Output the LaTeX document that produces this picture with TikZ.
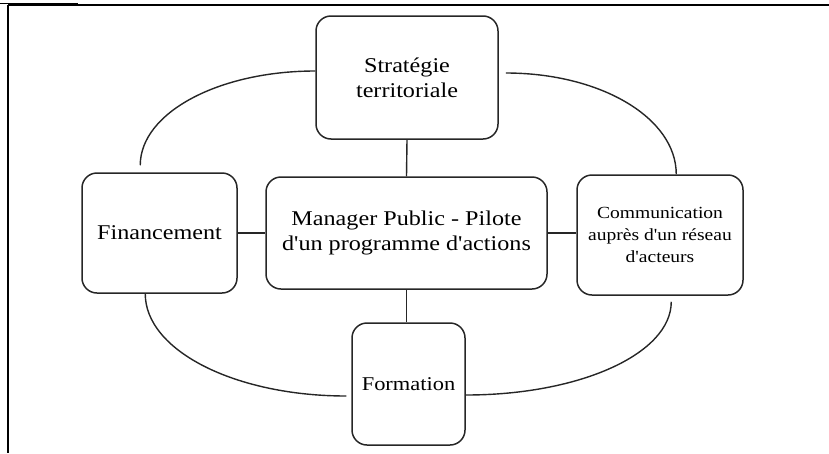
\documentclass[tikz,border=0pt]{standalone}
\usepackage{fontspec}
\newfontfamily\ser[FakeStretch=1.15]{Liberation Serif}
\usetikzlibrary{calc}
\begin{document}
\begin{tikzpicture}[x=1pt,y=-1pt,
  box/.style={draw=black!85,line width=1.5pt,rounded corners=15pt,inner sep=0pt,align=center,text=black},
  bigtext/.style={font=\ser\fontsize{21}{25}\selectfont},
  smalltext/.style={font=\ser\fontsize{17}{22}\selectfont},
  link/.style={draw=black!85,line width=1.4pt}]
\useasboundingbox (0,0) rectangle (829,453);
% frame
\draw[line width=2pt] (8,5) -- (829,5);
\draw[line width=2pt] (8,5) -- (8,453);
\draw[line width=1pt] (0,3) -- (78,3);
% nodes
\node[box,bigtext,minimum width=182pt,minimum height=123pt] (strat) at (407,77.5) {Stratégie\\territoriale};
\node[box,bigtext,minimum width=281pt,minimum height=112pt] (central) at (406.5,233) {Manager Public - Pilote\\d'un programme d'actions};
\node[box,bigtext,minimum width=155pt,minimum height=120pt] (fin) at (159.5,233) {Financement};
\node[box,smalltext,minimum width=166pt,minimum height=120pt] (comm) at (660,235) {Communication\\auprès d'un réseau\\d'acteurs};
\node[box,font=\ser\fontsize{19.5}{24}\selectfont,minimum width=113pt,minimum height=122pt] (form) at (408.5,384) {Formation};
% straight links
\draw[link] (strat.south) -- (central.north);
\draw[link] (fin.east) -- (central.west);
\draw[link] (central.east) -- (central.east -| comm.west);
\draw[link] (central.south) -- (central.south |- form.north);
% arc end points
\coordinate (tlA) at ($(strat.west)+(0,-6.5)$);
\coordinate (tlB) at ($(fin.north west)+(59,-7)$);
\coordinate (trA) at ($(strat.east)+(7,-4.5)$);
\coordinate (trB) at ($(comm.north west)+(100,0)$);
\coordinate (blA) at ($(fin.south west)+(64,0)$);
\coordinate (blB) at ($(form.west)+(-5,12)$);
\coordinate (brA) at ($(form.east)+(0,11)$);
\coordinate (brB) at ($(comm.south west)+(95,6)$);
% ellipse arcs
\draw[link] (tlA) .. controls ($(tlA)+(-96.6,0)$) and ($(tlB)+(0,-52.5)$) .. (tlB);
\draw[link] (trA) .. controls ($(trA)+(95,0)$) and ($(trB)+(0,-56.3)$) .. (trB);
\draw[link] (blA) .. controls ($(blA)+(0,56.9)$) and ($(blB)+(-111,0)$) .. (blB);
\draw[link] (brA) .. controls ($(brA)+(114.3,0)$) and ($(brB)+(0,51.9)$) .. (brB);
\end{tikzpicture}
\end{document}
